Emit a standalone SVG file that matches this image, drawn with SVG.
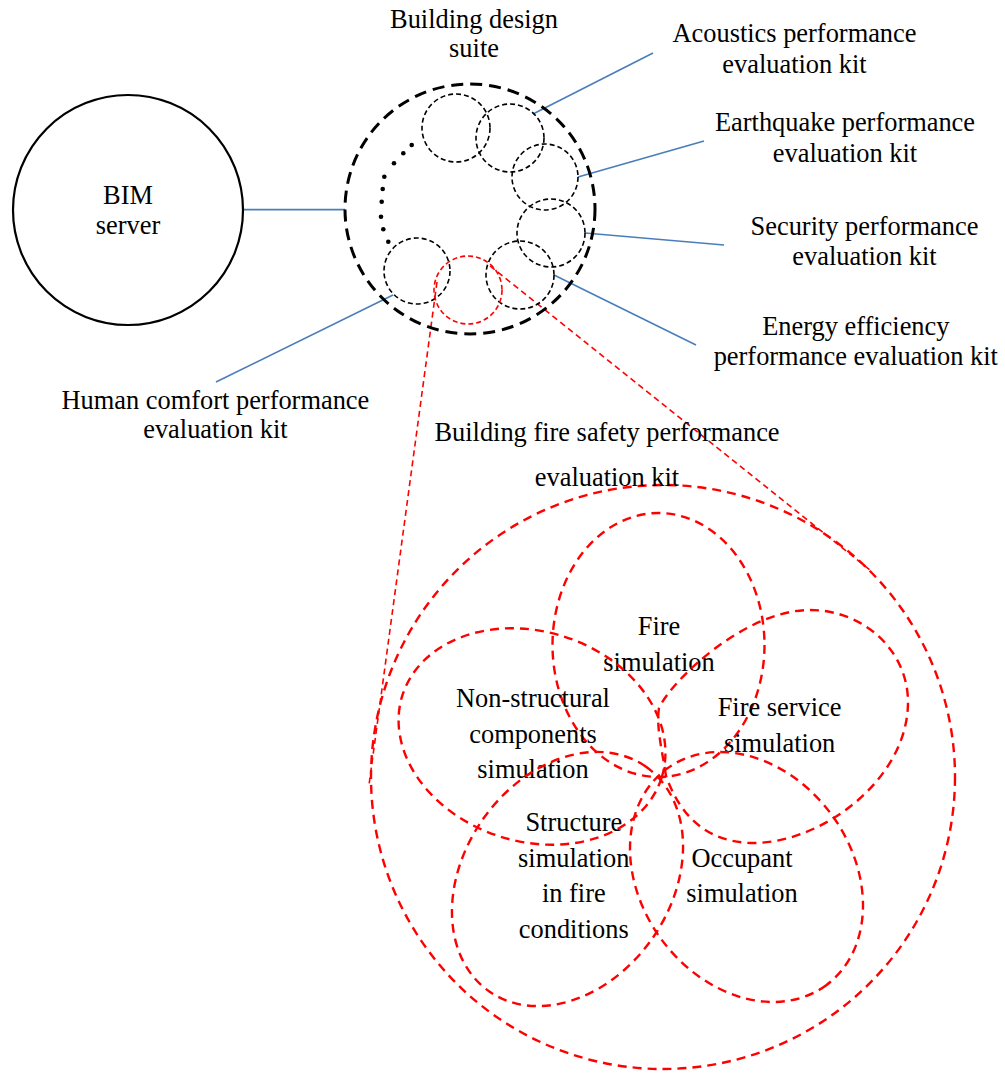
<svg xmlns="http://www.w3.org/2000/svg" width="1005" height="1074" viewBox="0 0 1005 1074">
<style>
text{font-family:"Liberation Serif","Times New Roman",serif;font-size:26.4px;fill:#000;text-anchor:middle}
.blue{stroke:#4a7ebb;stroke-width:1.6;fill:none}
.kit{fill:none;stroke:#000;stroke-width:1.6;stroke-dasharray:5 3}
.redkit{fill:none;stroke:#f00;stroke-width:1.6;stroke-dasharray:5 3}
.redline{fill:none;stroke:#f00;stroke-width:1.6;stroke-dasharray:6 4}
.petal{fill:none;stroke:#f00;stroke-width:2.4;stroke-dasharray:9 6}
.dot{fill:#000}
</style>
<rect width="1005" height="1074" fill="#fff"/>
<g id="connectors">
<line class="blue" x1="243" y1="209.6" x2="345" y2="209.6"/>
<line class="blue" x1="533" y1="114" x2="653" y2="53"/>
<line class="blue" x1="578" y1="177" x2="704" y2="141"/>
<line class="blue" x1="585" y1="233" x2="724" y2="245"/>
<line class="blue" x1="554" y1="275" x2="696" y2="345"/>
<line class="blue" x1="393" y1="295" x2="216" y2="382"/>
<line class="redline" x1="437" y1="282" x2="369" y2="785"/>
<line class="redline" x1="490" y1="266" x2="870" y2="570"/>
</g>
<g id="bim-server">
<circle cx="128" cy="210" r="115" fill="none" stroke="#000" stroke-width="2.2"/>
<text x="128" y="204">BIM</text>
<text x="128" y="234">server</text>
</g>
<g id="building-design-suite">
<circle cx="470" cy="209" r="125" fill="none" stroke="#000" stroke-width="3" stroke-dasharray="12 7"/>
<text x="474" y="28">Building design</text>
<text x="474" y="57">suite</text>
<circle class="dot" cx="411.7" cy="145" r="2.3"/>
<circle class="dot" cx="403.3" cy="153.3" r="2.3"/>
<circle class="dot" cx="394" cy="163.3" r="2.3"/>
<circle class="dot" cx="384.3" cy="176.7" r="2.3"/>
<circle class="dot" cx="382.7" cy="189" r="2.3"/>
<circle class="dot" cx="381.7" cy="201.7" r="2.3"/>
<circle class="dot" cx="381" cy="216.7" r="2.3"/>
<circle class="dot" cx="383.3" cy="229.3" r="2.3"/>
<circle class="dot" cx="388.3" cy="241.7" r="2.3"/>
</g>
<g id="kit-unlabeled">
<circle class="kit" cx="456" cy="128" r="34"/>
</g>
<g id="acoustics-kit">
<circle class="kit" cx="510" cy="138" r="34"/>
<text x="794.5" y="42.3">Acoustics performance</text>
<text x="794.5" y="73.3">evaluation kit</text>
</g>
<g id="earthquake-kit">
<circle class="kit" cx="545" cy="177" r="33"/>
<text x="845" y="130.7">Earthquake performance</text>
<text x="845" y="161.7">evaluation kit</text>
</g>
<g id="security-kit">
<circle class="kit" cx="551" cy="233" r="34"/>
<text x="864.5" y="235">Security performance</text>
<text x="864.5" y="265">evaluation kit</text>
</g>
<g id="energy-kit">
<circle class="kit" cx="520" cy="275" r="34"/>
<text x="855.8" y="335">Energy efficiency</text>
<text x="855.8" y="365">performance evaluation kit</text>
</g>
<g id="human-comfort-kit">
<circle class="kit" cx="417" cy="271" r="33"/>
<text x="215.4" y="409.3">Human comfort performance</text>
<text x="215.4" y="438.3">evaluation kit</text>
</g>
<g id="fire-safety-kit">
<circle class="redkit" cx="468" cy="290" r="34"/>
<circle class="petal" cx="663" cy="777" r="292"/>
<text x="607" y="441">Building fire safety performance</text>
<text x="607" y="486">evaluation kit</text>
</g>
<g id="fire-simulation">
<ellipse class="petal" cx="658.5" cy="645" rx="106" ry="132"/>
<text x="659" y="635">Fire</text>
<text x="659" y="671">simulation</text>
</g>
<g id="fire-service-simulation">
<path class="petal" d="M666,776 C662,750 656,726 659,708 C672,680 745,610 810,610 C864,610 908,651 908,702 C908,780 820,845 750,843 C705,841 680,815 666,776 Z"/>
<text x="779.6" y="715.7">Fire service</text>
<text x="779.6" y="751.7">simulation</text>
</g>
<g id="non-structural-simulation">
<ellipse class="petal" cx="532" cy="736.5" rx="136" ry="105" transform="rotate(17.7 532 736.5)"/>
<text x="533" y="707.3">Non-structural</text>
<text x="533" y="742.7">components</text>
<text x="533" y="778.3">simulation</text>
</g>
<g id="structure-simulation">
<ellipse class="petal" cx="567.5" cy="879" rx="137" ry="103.6" transform="rotate(-55.2 567.5 879)"/>
<text x="573.8" y="830.7">Structure</text>
<text x="573.8" y="866.7">simulation</text>
<text x="573.8" y="902.3">in fire</text>
<text x="573.8" y="938.3">conditions</text>
</g>
<g id="occupant-simulation">
<ellipse class="petal" cx="746.5" cy="877" rx="134.4" ry="105.5" transform="rotate(53.6 746.5 877)"/>
<text x="742" y="866.7">Occupant</text>
<text x="742" y="901.7">simulation</text>
</g>
</svg>
